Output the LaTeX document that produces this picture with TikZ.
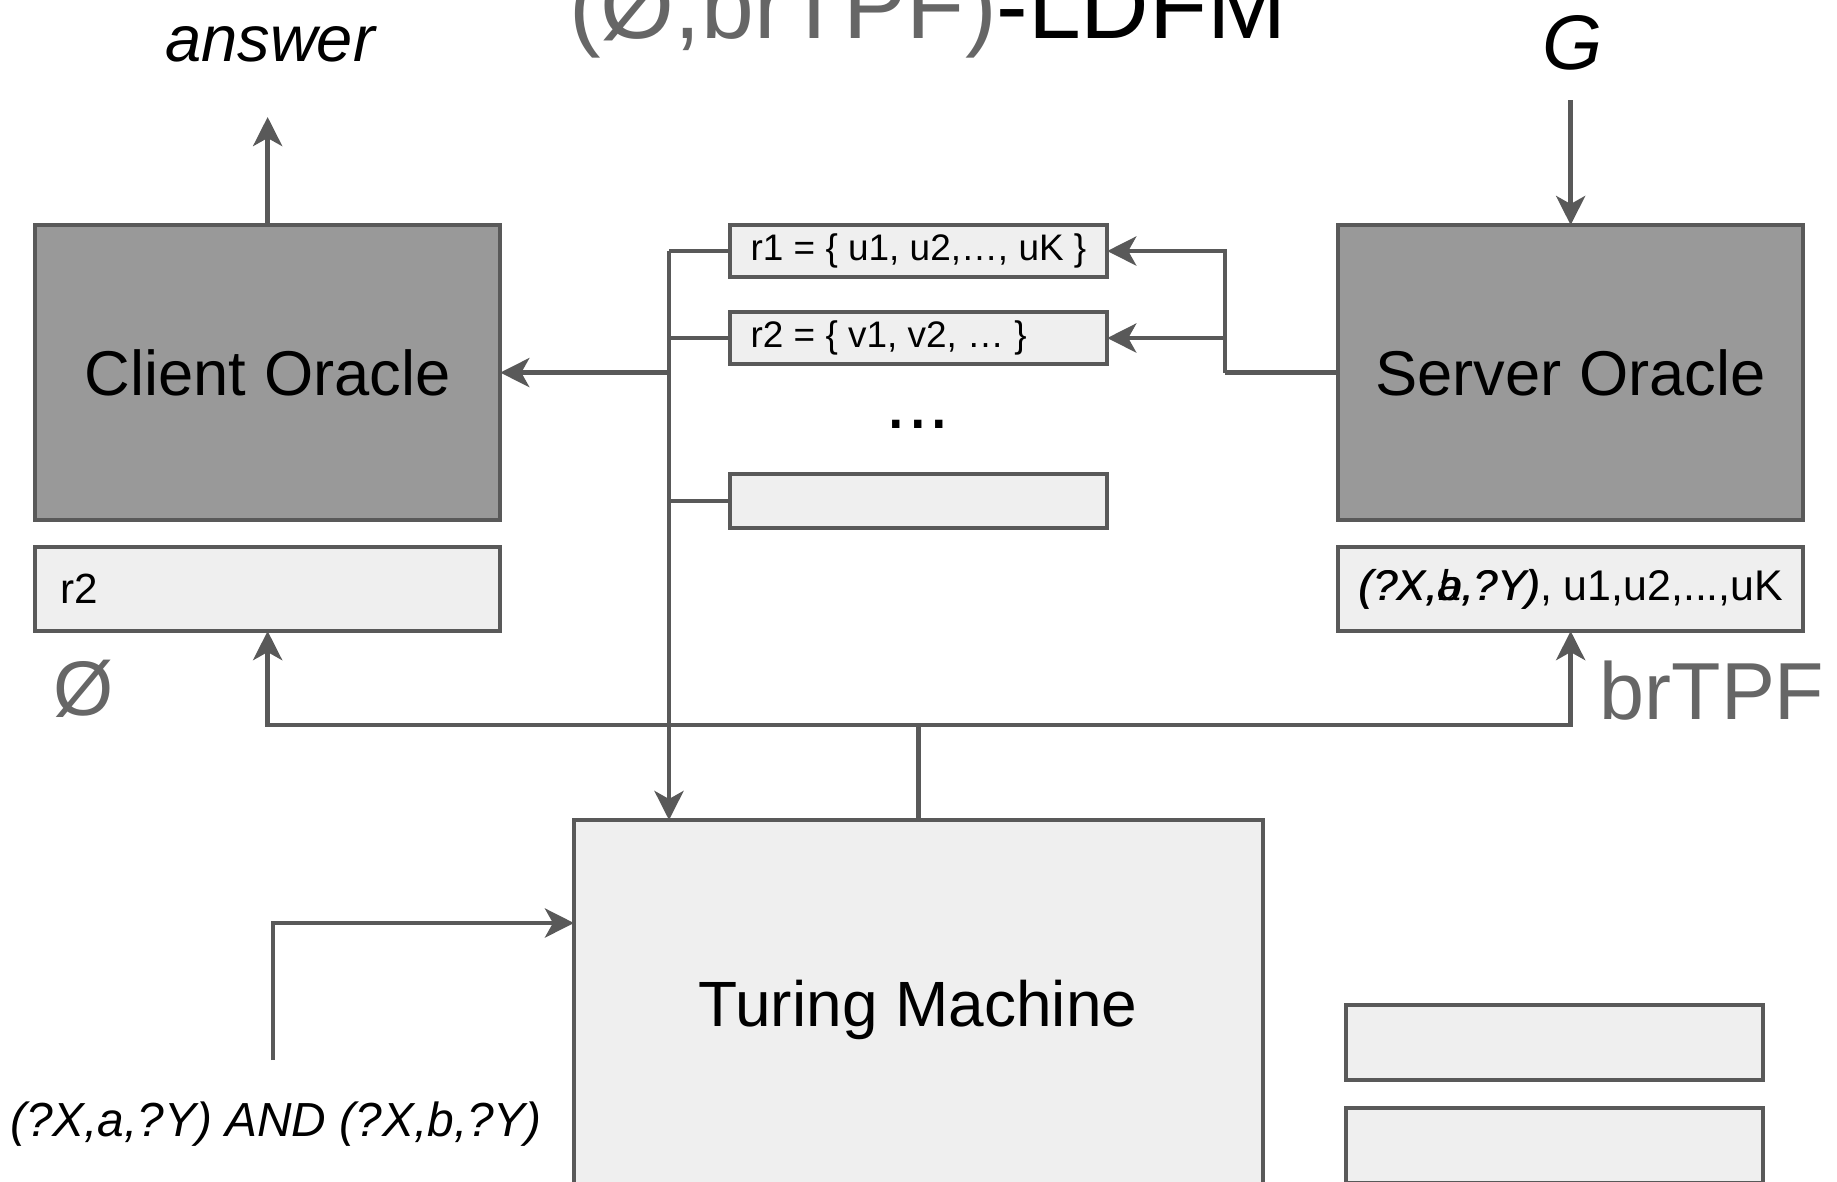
\documentclass[tikz,border=0pt]{standalone}
\usepackage{fontspec}
\setmainfont{Liberation Sans}
\usetikzlibrary{arrows.meta}
\definecolor{edgegrey}{HTML}{595959}
\definecolor{oraclegrey}{HTML}{999999}
\definecolor{boxgrey}{HTML}{EFEFEF}
\definecolor{labelgrey}{HTML}{666666}
\begin{document}
\begin{tikzpicture}[x=0.01cm, y=-0.01cm, line width=1.1pt,
    oracle/.style={draw=edgegrey, fill=oraclegrey, anchor=north west, inner sep=0pt,
      outer sep=0pt, font=\fontsize{18}{20}\selectfont},
    membox/.style={draw=edgegrey, fill=boxgrey, anchor=north west, inner sep=0pt, outer sep=0pt},
    arr/.style={draw=edgegrey, line width=1.35pt, -{Stealth[length=0.29cm, width=0.29cm, inset=0.08cm]}},
    wire/.style={draw=edgegrey, line width=1.35pt}]
  \clip (0,0) rectangle (1837,1181);
  % boxes
  \node[oracle, minimum width=4.65cm, minimum height=2.95cm] (cli) at (35,225) {Client Oracle};
  \node[oracle, minimum width=4.65cm, minimum height=2.95cm] (srv) at (1338,225) {Server Oracle};
  \node[membox, minimum width=4.65cm, minimum height=0.84cm] (cr) at (35,547) {};
  \node[membox, minimum width=4.65cm, minimum height=0.84cm] (sr) at (1338,547) {};
  \node[membox, minimum width=3.77cm, minimum height=0.52cm] (r1) at (730,225) {};
  \node[membox, minimum width=3.77cm, minimum height=0.52cm] (r2) at (730,312) {};
  \node[membox, minimum width=3.77cm, minimum height=0.54cm] (r0) at (730,474) {};
  \node[membox, minimum width=6.89cm, minimum height=4.4cm] (tm) at (574,820) {};
  \node[membox, minimum width=4.17cm, minimum height=0.75cm] (t1) at (1346,1005) {};
  \node[membox, minimum width=4.17cm, minimum height=0.75cm] (t2) at (1346,1108) {};
  % texts
  \node[font=\fontsize{18.2}{20}\selectfont] (tmtext) at (918,1010) {Turing Machine};
  \node[anchor=west, font=\fontsize{10.5}{12}\selectfont] (r1text) at (737,251) {r1 = \{ u1, u2,…, uK \}};
  \node[anchor=west, font=\fontsize{10.5}{12}\selectfont] (r2text) at (737,338) {r2 = \{ v1, v2, … \}};
  \node[font=\fontsize{22}{24}\selectfont] (dots) at (918,424) {...};
  \node[anchor=west, font=\fontsize{12}{14}\selectfont] (crtext) at (47,589) {r2};
  \node[inner sep=0pt, font=\fontsize{12.2}{14}\selectfont] (srtext) at (1571,589)
    {\phantom{\itshape(?X,a,?Y)}, u1,u2,...,uK};
  \node[anchor=west, font=\fontsize{12.2}{14}\selectfont\itshape, inner sep=0pt] (qa) at (srtext.west) {(?X,a,?Y)};
  \node[anchor=west, font=\fontsize{12.2}{14}\selectfont\itshape, inner sep=0pt] (qb) at ([xshift=0.3pt]srtext.west) {(?X,b,?Y)};
  \node[anchor=base, font=\fontsize{27}{30}\selectfont] (title) at (928,38)
    {\textcolor{labelgrey}{(Ø,brTPF)}-LDFM};
  \node[anchor=base, font=\fontsize{18.5}{20}\selectfont\itshape] (answer) at (270,61) {answer};
  \node[anchor=base, font=\fontsize{22}{24}\selectfont\itshape] (g) at (1573,69) {G};
  \node[text=labelgrey, font=\fontsize{22}{24}\selectfont] (empty) at (84,689) {Ø};
  \node[anchor=west, text=labelgrey, font=\fontsize{23}{25}\selectfont] (brtpf) at (1586,691) {brTPF};
  \node[font=\fontsize{13.6}{15}\selectfont\itshape] (query) at (276,1124) {(?X,a,?Y) AND (?X,b,?Y)};
  % connector points
  \coordinate (trunk) at (669,251);
  \coordinate (fork) at (1225,373);
  \coordinate (bus) at (918,725);
  \coordinate (ans) at (268,117);
  \coordinate (gin) at (1570,100);
  \coordinate (qin) at (273,1060);
  \coordinate (qbend) at (273,923);
  % connectors
  \draw[wire] (trunk |- r1.west) -- (r1.west);
  \draw[wire] (trunk |- r2.west) -- (r2.west);
  \draw[wire] (trunk |- r0.west) -- (r0.west);
  \draw[arr] (trunk |- r1.west) -- (trunk |- tm.north);
  \draw[arr] (trunk |- cli.east) -- (cli.east);
  \draw[wire] (srv.west) -- (fork |- srv.west);
  \draw[arr] (fork |- srv.west) |- (r1.east);
  \draw[arr] (fork |- r2.east) -- (r2.east);
  \draw[wire] (tm.north) -- (tm.north |- bus);
  \draw[arr] (tm.north |- bus) -| (cr.south);
  \draw[arr] (tm.north |- bus) -| (sr.south);
  \draw[arr] (cli.north) -- (cli.north |- ans);
  \draw[arr] (srv.north |- gin) -- (srv.north);
  \draw[arr] (qin) -- (qbend) -- (qbend -| tm.west);
\end{tikzpicture}
\end{document}
